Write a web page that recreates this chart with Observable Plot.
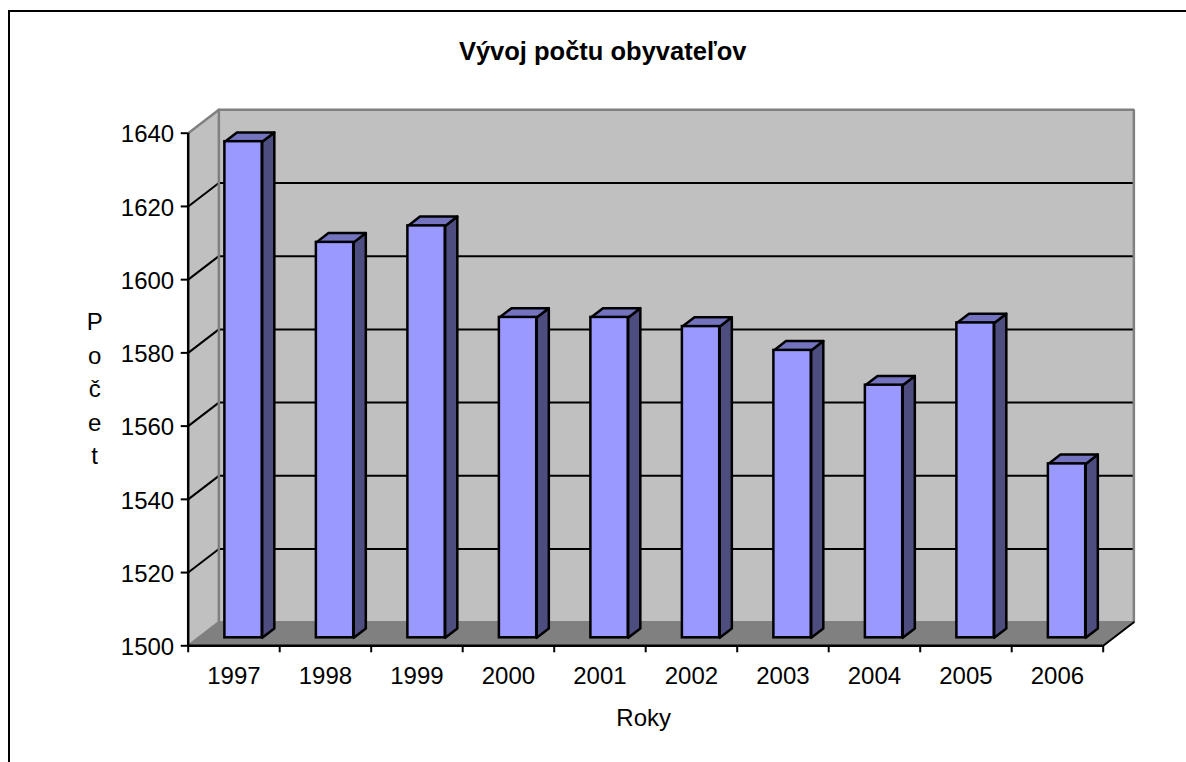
<!DOCTYPE html>
<html lang="sk">
<head>
<meta charset="utf-8">
<script src="https://cdn.jsdelivr.net/npm/d3@7"></script>
<script src="https://cdn.jsdelivr.net/npm/@observablehq/plot@0.6"></script>
<style>
  html, body { margin: 0; padding: 0; background: #fff; overflow: hidden; width: 1186px; height: 762px; }
  #border { position: absolute; left: 8px; top: 10px; right: 0; bottom: 0; border-top: 2.5px solid #000; border-left: 2.5px solid #000; box-sizing: border-box; }
  #chart { position: absolute; left: 0; top: 0; }
</style>
</head>
<body>
<div id="border"></div>
<div id="chart"></div>
<script>
const years = ["1997","1998","1999","2000","2001","2002","2003","2004","2005","2006"];
const population = [1635.5,1608,1612.5,1587.5,1587.5,1585,1578.5,1569,1586,1547.5];
const yTicks = [1500,1520,1540,1560,1580,1600,1620,1640];
const gridValues = [1520,1540,1560,1580,1600,1620];
const chartTitle = "Vývoj počtu obyvateľov";
const xTitle = "Roky";
const yTitle = "Počet";

// oblique projection of the 3-D box, in data units (categories, persons)
const depthX = 0.335, depthY = 6.42;
const pt = (cat, val, d) => ({x: cat + d * depthX, y: val + d * depthY});
const poly = pts => pts.concat([pts[0]]);
const [yMin, yMax] = [yTicks[0], yTicks[yTicks.length - 1]];
const n = years.length;

const sideWall = poly([pt(0,yMin,0), pt(0,yMax,0), pt(0,yMax,1), pt(0,yMin,1)]);
const backWall = poly([pt(0,yMin,1), pt(0,yMax,1), pt(n,yMax,1), pt(n,yMin,1)]);
const floor = poly([pt(0,yMin,0), pt(0,yMin,1), pt(n,yMin,1), pt(n,yMin,0)]);
const wallEdges = [
  {k:"a", ...pt(0,yMax,0)}, {k:"a", ...pt(0,yMax,1)}, {k:"a", ...pt(n,yMax,1)}, {k:"a", ...pt(n,yMin,1)}, {k:"a", ...pt(0,yMin,1)}, {k:"a", ...pt(0,yMin,0)},
  {k:"b", ...pt(0,yMax,1)}, {k:"b", ...pt(0,yMin,1)}
];
const gridLines = gridValues.flatMap(v => [
  {k:v, ...pt(0,v,0)}, {k:v, ...pt(0,v,1)}, {k:v, ...pt(n,v,1)}
]);
const floorEnd = [pt(n,yMin,0), pt(n,yMin,1)];

const barOffset = 0.287, barWidth = 0.408, dFront = 0.34, dBack = 0.735;
const bars = years.map((year, i) => ({year, i, v: population[i], x0: i + barOffset, x1: i + barOffset + barWidth}));
const sides = bars.flatMap(b => poly([pt(b.x1,yMin,dFront), pt(b.x1,b.v,dFront), pt(b.x1,b.v,dBack), pt(b.x1,yMin,dBack)]).map(p => ({k:b.year, ...p})));
const tops = bars.flatMap(b => poly([pt(b.x0,b.v,dFront), pt(b.x0,b.v,dBack), pt(b.x1,b.v,dBack), pt(b.x1,b.v,dFront)]).map(p => ({k:b.year, ...p})));
const fronts = bars.map(b => {
  const a = pt(b.x0,yMin,dFront), c = pt(b.x1,b.v,dFront);
  return {x1:a.x, x2:c.x, y1:a.y, y2:c.y};
});

const plot = Plot.plot({
  width: 1186, height: 762,
  marginLeft: 187.7, marginRight: 83.3, marginTop: 132.7, marginBottom: 116.7,
  x: {type: "linear", domain: [0, n]},
  y: {type: "linear", domain: [yMin, yMax]},
  style: {fontFamily: "'Liberation Sans', Arial, sans-serif", color: "#000", background: "transparent", overflow: "visible"},
  marks: [
    Plot.line(sideWall, {x:"x", y:"y", fill:"#C0C0C0", stroke:"none"}),
    Plot.line(backWall, {x:"x", y:"y", fill:"#C0C0C0", stroke:"none"}),
    Plot.line(floor, {x:"x", y:"y", fill:"#808080", stroke:"none"}),
    Plot.line(gridLines, {x:"x", y:"y", z:"k", stroke:"#000", strokeWidth:2}),
    Plot.line(wallEdges, {x:"x", y:"y", z:"k", stroke:"#808080", strokeWidth:2.5, strokeLinejoin:"miter"}),
    Plot.line(floorEnd, {x:"x", y:"y", stroke:"#000", strokeWidth:2}),
    Plot.line(sides, {x:"x", y:"y", z:"k", fill:"#4D4D80", stroke:"#000", strokeWidth:2.5, strokeLinejoin:"round"}),
    Plot.line(tops, {x:"x", y:"y", z:"k", fill:"#7373BF", stroke:"#000", strokeWidth:2.5, strokeLinejoin:"round"}),
    Plot.rect(fronts, {x1:"x1", x2:"x2", y1:"y1", y2:"y2", fill:"#9999FF", stroke:"#000", strokeWidth:2.5}),
    Plot.ruleX([0], {stroke:"#000", strokeWidth:2.5}),
    Plot.ruleY([yMin], {stroke:"#000", strokeWidth:2.5}),
    Plot.axisY({ticks: yTicks, tickSize: 7, tickFormat: () => "", strokeWidth: 2, label: null}),
    Plot.axisY({ticks: yTicks, tickSize: 0, tickPadding: 14, dy: 1.5, tickFormat: d3.format("d"), fontSize: 24, label: null}),
    Plot.axisX({ticks: d3.range(0, n + 1), tickSize: 7, tickFormat: () => "", strokeWidth: 2, label: null}),
    Plot.axisX({ticks: years.map((_, i) => i + 0.5), tickSize: 0, tickPadding: 21, tickFormat: d => years[Math.floor(d)], fontSize: 24, label: null}),
    Plot.text([chartTitle], {frameAnchor:"top", dx:-43, dy:-91, fontSize:25.5, fontWeight:"bold", fill:"#000"}),
    Plot.text([xTitle], {frameAnchor:"bottom", dx:-2, dy:80, fontSize:24, fill:"#000"}),
    Plot.text([yTitle.split("").join("\n")], {frameAnchor:"left", textAnchor:"middle", dx:-93.5, dy:-3, lineHeight:1.4, fontSize:24, fill:"#000"})
  ]
});
document.getElementById("chart").appendChild(plot);
</script>
</body>
</html>
